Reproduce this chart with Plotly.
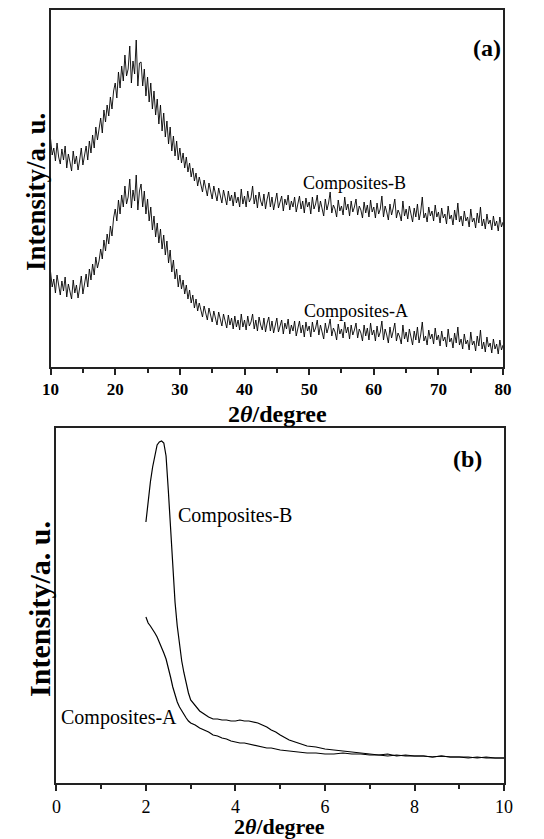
import numpy as np
import plotly.graph_objects as go

# ---------------- Panel (a): wide-angle XRD ----------------
two_theta_a = np.round(np.arange(10.0, 80.001, 0.25), 2)

composites_b_a = [
    # 10 - 19.75
    228, 212, 219, 206, 224, 210, 203, 218, 207, 221, 199, 213, 205, 196, 216, 203,
    211, 197, 207, 219, 202, 213, 221, 207, 226, 214, 232, 219, 240, 227, 236, 249,
    234, 257, 245, 262, 251, 270, 258, 276,
    # 20 - 29.75
    284, 269, 295, 279, 301, 286, 312, 291, 298, 321, 284, 306, 293, 327, 281, 304,
    305, 281, 298, 271, 290, 265, 284, 258, 276, 252, 268, 243, 262, 236, 254, 230,
    246, 223, 240, 216, 231, 211, 226, 207,
    # 30 - 39.75
    219, 204, 214, 199, 210, 195, 204, 190, 199, 186, 194, 181, 190, 183, 175, 187,
    179, 171, 184, 175, 168, 181, 173, 166, 179, 170, 164, 177, 168, 162, 176, 166,
    172, 161, 175, 164, 170, 160, 178, 163,
    # 40 - 49.75
    171, 160, 176, 165, 169, 181, 163, 172, 159, 175, 166, 161, 173, 158, 168, 175,
    160, 170, 157, 167, 174, 159, 165, 171, 156, 168, 162, 172, 157, 166, 160, 170,
    155, 164, 171, 158, 166, 154, 169, 160,
    # 50 - 59.75
    165, 153, 170, 158, 163, 172, 155, 166, 159, 151, 168, 157, 164, 175, 154, 162,
    158, 150, 167, 156, 161, 152, 170, 157, 163, 151, 166, 155, 160, 168, 152, 161,
    157, 149, 165, 154, 162, 150, 167, 155,
    # 60 - 69.75
    160, 149, 164, 153, 158, 171, 150, 161, 155, 147, 163, 152, 159, 168, 149, 157,
    153, 146, 166, 151, 158, 148, 161, 154, 145, 159, 150, 163, 147, 155, 170, 149,
    154, 145, 160, 151, 156, 146, 162, 150,
    # 70 - 80
    155, 144, 159, 149, 153, 143, 161, 148, 152, 142, 157, 147, 164, 145, 151, 141,
    156, 146, 150, 140, 158, 145, 149, 139, 154, 144, 160, 141, 148, 138, 153, 143,
    147, 137, 151, 141, 146, 136, 150, 140, 145,
]

composites_a_a = [
    # 10 - 19.75
    95, 80, 88, 74, 92, 81, 72, 86, 76, 90, 70, 83, 75, 68, 87, 74,
    82, 69, 79, 91, 73, 85, 93, 80, 98, 87, 103, 92, 110, 99, 106, 118,
    108, 127, 116, 133, 123, 141, 131, 149,
    # 20 - 29.75
    158, 146, 167, 153, 172, 160, 181, 163, 170, 188, 159, 177, 166, 192, 157, 176,
    183, 160, 176, 153, 168, 146, 160, 137, 151, 130, 144, 124, 138, 118, 132, 112,
    126, 104, 117, 95, 107, 88, 98, 80,
    # 30 - 39.75
    92, 78, 87, 73, 82, 68, 77, 64, 72, 59, 68, 56, 64, 57, 50, 61,
    54, 47, 59, 50, 45, 56, 48, 42, 55, 46, 41, 53, 44, 39, 52, 42,
    49, 38, 51, 40, 47, 37, 53, 40,
    # 40 - 49.75
    47, 37, 51, 41, 45, 53, 38, 47, 36, 50, 42, 37, 49, 35, 44, 50,
    36, 46, 34, 43, 49, 35, 41, 47, 33, 44, 38, 48, 33, 42, 36, 46,
    31, 40, 46, 34, 42, 30, 45, 36,
    # 50 - 59.75
    41, 30, 45, 35, 39, 47, 32, 42, 36, 28, 44, 34, 40, 48, 31, 39,
    35, 27, 43, 33, 38, 29, 45, 34, 40, 28, 42, 32, 37, 44, 29, 38,
    34, 26, 42, 31, 39, 27, 44, 32,
    # 60 - 69.75
    37, 26, 41, 30, 35, 46, 27, 38, 32, 24, 40, 29, 36, 44, 26, 34,
    30, 23, 42, 28, 35, 25, 38, 31, 22, 36, 27, 40, 24, 32, 45, 26,
    31, 22, 37, 28, 33, 23, 39, 27,
    # 70 - 80
    32, 21, 36, 26, 30, 20, 38, 25, 29, 19, 34, 24, 40, 22, 28, 18,
    33, 23, 27, 17, 35, 22, 26, 16, 31, 21, 37, 18, 25, 15, 30, 20,
    24, 14, 28, 18, 23, 13, 27, 17, 22,
]

# ---------------- Panel (b): small-angle XRD ----------------
two_theta_b = [
    2.00, 2.05, 2.10, 2.15, 2.20, 2.25, 2.30, 2.35, 2.40, 2.45,
    2.50, 2.55, 2.60, 2.65, 2.70, 2.75, 2.80, 2.85, 2.90, 2.95,
    3.00, 3.1, 3.2, 3.3, 3.4, 3.5, 3.6, 3.7, 3.8, 3.9,
    4.0, 4.1, 4.2, 4.3, 4.4, 4.5, 4.6, 4.7, 4.8, 4.9,
    5.0, 5.2, 5.4, 5.6, 5.8, 6.0, 6.2, 6.4, 6.6, 6.8,
    7.0, 7.2, 7.4, 7.6, 7.8, 8.0, 8.2, 8.4, 8.6, 8.8,
    9.0, 9.2, 9.4, 9.6, 9.8, 10.0,
]

composites_b_b = [
    261, 283, 301, 316, 329, 338, 341, 342, 340, 327,
    293, 254, 214, 181, 157, 138, 122, 110, 99, 90,
    83, 77, 72, 69, 66, 64, 64, 63, 63, 62,
    62, 63, 62, 62, 61, 60, 58, 56, 53, 51,
    48, 43, 40, 37, 36, 34, 33, 32, 31, 30,
    29, 28, 29, 27, 28, 27, 27, 26, 27, 26,
    26, 25, 26, 25, 25, 25,
]

composites_a_b = [
    166, 160, 157, 154, 150, 146, 141, 136, 130, 124,
    116, 106, 96, 88, 81, 76, 72, 68, 65, 62,
    60, 58, 55, 53, 51, 48, 47, 45, 44, 42,
    41, 40, 40, 39, 38, 37, 36, 35, 35, 34,
    33, 32, 31, 30, 30, 29, 29, 30, 29, 29,
    28, 28, 27, 28, 27, 27, 27, 26, 27, 26,
    26, 26, 25, 26, 25, 25,
]

# axis settings
x_range_a, y_range_a = [10, 80], [0, 357]
x_range_b, y_range_b = [0, 10], [0, 355]
major_ticks_a = [10, 20, 30, 40, 50, 60, 70, 80]
minor_ticks_a = [15, 25, 35, 45, 55, 65, 75]
major_ticks_b = [0, 2, 4, 6, 8, 10]
minor_ticks_b = [1, 3, 5, 7, 9]

W, H = 544, 839
FONT = "Liberation Serif"
AXC = "#222222"


def px(x):
    return x / W


def py(y):
    return 1 - y / H


fig = go.Figure()
fig.add_trace(go.Scatter(x=two_theta_a, y=composites_b_a, mode="lines",
                         line=dict(color="black", width=0.9), xaxis="x", yaxis="y"))
fig.add_trace(go.Scatter(x=two_theta_a, y=composites_a_a, mode="lines",
                         line=dict(color="black", width=0.9), xaxis="x", yaxis="y"))
fig.add_trace(go.Scatter(x=two_theta_b, y=composites_b_b, mode="lines",
                         line=dict(color="black", width=1.2), xaxis="x2", yaxis="y2"))
fig.add_trace(go.Scatter(x=two_theta_b, y=composites_a_b, mode="lines",
                         line=dict(color="black", width=1.2), xaxis="x2", yaxis="y2"))

common_x = dict(showline=True, mirror=True, linecolor=AXC, linewidth=2,
                ticks="outside", ticklen=6, tickwidth=1.5, tickcolor=AXC,
                showgrid=False, zeroline=False, layer="above traces")
common_y = dict(showline=True, mirror=True, linecolor=AXC, linewidth=2,
                ticks="", showticklabels=False, showgrid=False, zeroline=False,
                layer="above traces")

fig.update_layout(
    width=W, height=H,
    margin=dict(l=0, r=0, t=0, b=0),
    paper_bgcolor="white", plot_bgcolor="white",
    showlegend=False,
    font=dict(family=FONT, color="black"),
    xaxis=dict(**common_x, domain=[px(43), px(511)], range=x_range_a,
               tickvals=major_ticks_a,
               tickfont=dict(family=FONT, size=17, weight="bold"),
               minor=dict(tickvals=minor_ticks_a, ticks="outside", ticklen=4,
                          tickwidth=1.5, tickcolor=AXC),
               anchor="y"),
    yaxis=dict(**common_y, domain=[py(367), py(10)], range=y_range_a, anchor="x"),
    xaxis2=dict(**common_x, domain=[px(49), px(512)], range=x_range_b,
                tickvals=major_ticks_b,
                tickfont=dict(family=FONT, size=18),
                minor=dict(tickvals=minor_ticks_b, ticks="outside", ticklen=4,
                           tickwidth=1.5, tickcolor=AXC),
                anchor="y2"),
    yaxis2=dict(**common_y, domain=[py(783), py(428)], range=y_range_b, anchor="x2"),
)

anns = [
    # axis titles
    dict(text="<b>Intensity/a. u.</b>", x=px(28), y=py(192), textangle=-90, size=27),
    dict(text="<b>Intensity/a. u.</b>", x=px(31), y=py(609), textangle=-90, size=30),
    dict(text="<b>2<i>θ</i>/degree</b>", x=px(278), y=py(414), size=24),
    dict(text="<b>2<i>θ</i>/degree</b>", x=px(280), y=py(826), size=22),
    # panel labels
    dict(text="<b>(a)</b>", x=px(494), y=py(48), size=24),
    dict(text="<b>(b)</b>", x=px(474), y=py(459), size=24),
    # curve labels
    dict(text="Composites-B", x=px(357), y=py(183), size=18),
    dict(text="Composites-A", x=px(359), y=py(311), size=18),
    dict(text="Composites-B", x=px(234), y=py(515), size=20),
    dict(text="Composites-A", x=px(114), y=py(717), size=20),
]
for a in anns:
    fig.add_annotation(text=a["text"], x=a["x"], y=a["y"], xref="paper", yref="paper",
                       xanchor="center", yanchor="middle", showarrow=False,
                       textangle=a.get("textangle", 0),
                       font=dict(family=FONT, size=a["size"], color="black"))

fig.write_html("out.html")
